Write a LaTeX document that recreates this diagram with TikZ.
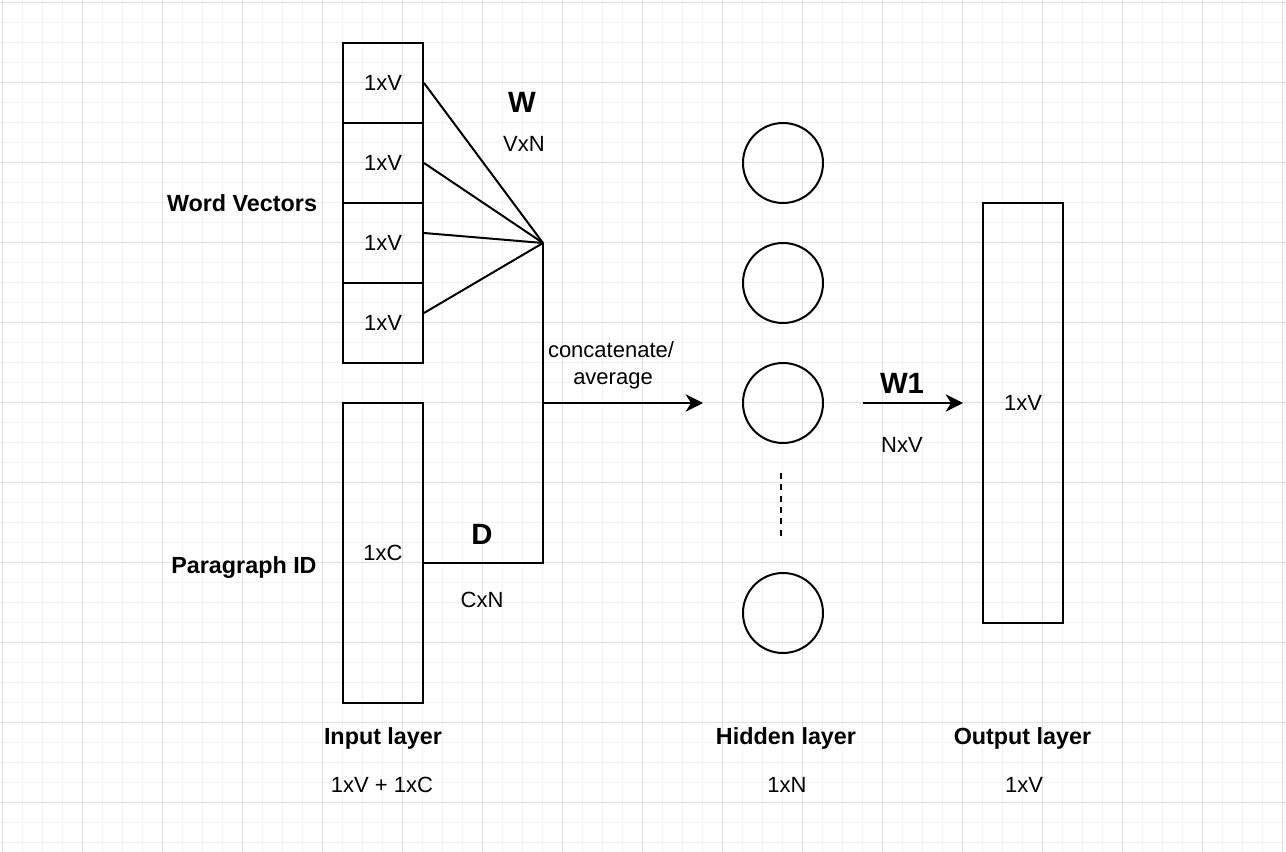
\documentclass[tikz,border=0pt]{standalone}
\usepackage{fontspec}
\setmainfont{Liberation Sans}
\usetikzlibrary{arrows.meta}
\tikzset{
 box/.style={draw, line width=1.5pt, minimum width=60pt, minimum height=60pt, inner sep=0pt, font=\fontsize{16.5}{20}\selectfont},
 neuron/.style={draw, circle, line width=1.5pt, minimum size=60pt, inner sep=0pt},
 conn/.style={line width=1.5pt},
 arr/.style={conn, -{Stealth[length=13pt,width=13pt,inset=4pt]}},
 txt/.style={anchor=base, inner sep=0pt, font=\fontsize{16.5}{21}\selectfont},
 btxt/.style={anchor=base, inner sep=0pt, font=\fontsize{17.5}{21}\selectfont\bfseries},
 bigtxt/.style={anchor=base, inner sep=0pt, font=\fontsize{22}{26}\selectfont\bfseries},
 minorgrid/.style={draw=black!5, line width=0.75pt},
 majorgrid/.style={draw=black!12, line width=0.75pt},
}
\begin{document}
\begin{tikzpicture}[x=0.75pt,y=-0.75pt]
\useasboundingbox (0,0) rectangle (1286,852);
\fill[white] (0,0) rectangle (1286,852);
% grid
\foreach \i in {0,...,64} \draw[minorgrid] (2.7+20*\i,0) -- (2.7+20*\i,852);
\foreach \j in {0,...,42} \draw[minorgrid] (0,2.7+20*\j) -- (1286,2.7+20*\j);
\foreach \i in {0,...,16} \draw[majorgrid] (2.7+80*\i,0) -- (2.7+80*\i,852);
\foreach \j in {0,...,10} \draw[majorgrid] (0,2.7+80*\j) -- (1286,2.7+80*\j);

% input layer
\node[box] (wv1) at (383,83) {1xV};
\node[box] (wv2) at (383,163) {1xV};
\node[box] (wv3) at (383,243) {1xV};
\node[box] (wv4) at (383,323) {1xV};
\node[box, minimum height=225pt] (pid) at (383,553) {1xC};

\coordinate (j) at (543,243);
\coordinate (jm) at (543,403);
\coordinate (jb) at (543,563);
\coordinate (hin) at (703,403);

\draw[conn] (wv1.east) -- (j);
\draw[conn] (wv2.east) -- (j);
\draw[conn] ([yshift=7.5pt]wv3.east) -- (j);
\draw[conn] ([yshift=7.5pt]wv4.east) -- (j);
\draw[conn] (j) -- (jb) -- ([yshift=-7.5pt]pid.east);
\draw[arr] (jm) -- (hin);

% hidden layer
\node[neuron] (h1) at (783,163) {};
\node[neuron] (h2) at (783,283) {};
\node[neuron] (h3) at (783,403) {};
\node[neuron] (h4) at (783,613) {};
\coordinate (d1) at (781,473);
\coordinate (d2) at (781,539);
\draw[conn, dash pattern=on 4.5pt off 4pt] (d1) -- (d2);

% output layer
\coordinate (w1a) at (863,403);
\coordinate (w1b) at (963,403);
\draw[arr] (w1a) -- (w1b);
\node[box, minimum height=315pt] (out) at (1023,413) {};

% labels
\node[txt] (tout) at (1023,411) {1xV};
\node[btxt] (twv) at (242,211.5) {Word Vectors};
\node[btxt] (tpid) at (244,573) {Paragraph ID};
\node[bigtxt] (tW) at (522,113) {W};
\node[txt] (tVxN) at (524,152) {VxN};
\node[bigtxt] (tD) at (482,544) {D};
\node[txt] (tCxN) at (482,607) {CxN};
\node[txt] (tcat1) at (611,358) {concatenate/};
\node[txt] (tcat2) at (613,385) {average};
\node[bigtxt] (tW1) at (902,393) {W1};
\node[txt] (tNxV) at (902,452) {NxV};
\node[btxt] (tin) at (383,744.5) {Input layer};
\node[txt] (tin2) at (382,792) {1xV + 1xC};
\node[btxt] (thid) at (786,744.5) {Hidden layer};
\node[txt] (thid2) at (787,792) {1xN};
\node[btxt] (toutl) at (1022.5,744.5) {Output layer};
\node[txt] (tout2) at (1024,792) {1xV};
\end{tikzpicture}
\end{document}
